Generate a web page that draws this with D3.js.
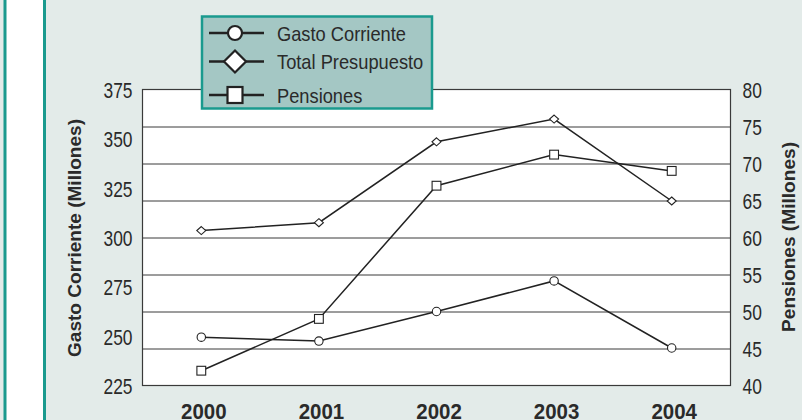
<!DOCTYPE html>
<html>
<head>
<meta charset="utf-8">
<script src="https://cdn.jsdelivr.net/npm/d3@7"></script>
<style>
  body { margin: 0; background: #e3ebe9; }
  svg { display: block; }
</style>
</head>
<body>
<div id="chart"></div>
<script>
// data
var years = ["2000", "2001", "2002", "2003", "2004"];
var gastoCorriente = [249.5, 247.5, 262.5, 278, 244];
var totalPresupuesto = [303.5, 307.5, 348.5, 360, 318.5];
var pensiones = [42, 49, 67, 71.2, 69];
var leftTicks = [225, 250, 275, 300, 325, 350, 375];
var rightTicks = [40, 45, 50, 55, 60, 65, 70, 75, 80];

var W = 802, H = 420;
var margin = { top: 89.5, right: 71.5, bottom: 34.5, left: 142.5 },
    width = W - margin.left - margin.right,
    height = H - margin.top - margin.bottom;

var font = "'Liberation Sans', Arial, sans-serif";

// squeeze text horizontally so it looks like the condensed face of the original
function condense(sel, k) {
    sel.each(function () {
        var len = this.getComputedTextLength();
        d3.select(this).attr("textLength", len * k).attr("lengthAdjust", "spacingAndGlyphs");
    });
}

var svg = d3.select("#chart")
    .append("svg")
    .attr("width", W)
    .attr("height", H);

// background + left side frame
svg.append("rect").attr("width", W).attr("height", H).attr("fill", "#e3ebe9");
svg.append("rect").attr("x", 5).attr("y", -2).attr("width", 39.5).attr("height", H + 4)
    .attr("fill", "#ffffff").attr("stroke", "#1a9a8e").attr("stroke-width", 3);

var g = svg.append("g")
    .attr("transform", "translate(" + margin.left + "," + margin.top + ")");

var x = d3.scalePoint().domain(years).range([0, width]).padding(0.5);
var yLeft = d3.scaleLinear().domain([225, 375]).range([height, 0]);
var yRight = d3.scaleLinear().domain([40, 80]).range([height, 0]);

// plot area
g.append("rect").attr("width", width).attr("height", height).attr("fill", "#ffffff");

// gridlines follow the right axis
g.append("g").selectAll("line")
    .data(rightTicks.slice(1, -1))
    .enter().append("line")
    .attr("x1", 0).attr("x2", width)
    .attr("y1", function (d) { return Math.round(yRight(d)) + 0.5; })
    .attr("y2", function (d) { return Math.round(yRight(d)) + 0.5; })
    .attr("stroke", "#3a3a3a").attr("stroke-width", 1);

g.append("rect").attr("width", width).attr("height", height)
    .attr("fill", "none").attr("stroke", "#3a3a3a").attr("stroke-width", 1.2);

// axes (labels only)
var leftAxis = g.append("g")
    .call(d3.axisLeft(yLeft).tickValues(leftTicks).tickSize(0).tickPadding(10));
var rightAxis = g.append("g")
    .attr("transform", "translate(" + width + ",0)")
    .call(d3.axisRight(yRight).tickValues(rightTicks).tickSize(0).tickPadding(12));
var bottomAxis = g.append("g")
    .attr("transform", "translate(0," + height + ")")
    .call(d3.axisBottom(x).tickSize(0).tickPadding(18));

[leftAxis, rightAxis, bottomAxis].forEach(function (a) {
    a.select(".domain").remove();
    a.selectAll("text").style("font-family", font).attr("fill", "#2a2a2a");
});
leftAxis.selectAll("text").style("font-size", "22px").attr("dy", "0.36em");
rightAxis.selectAll("text").style("font-size", "22px").attr("dy", "0.36em");
bottomAxis.selectAll("text").style("font-size", "22px").style("font-weight", "bold")
    .attr("dx", 2);
condense(leftAxis.selectAll("text"), 0.79);
condense(rightAxis.selectAll("text"), 0.79);
condense(bottomAxis.selectAll("text"), 0.93);

// axis titles
svg.append("text")
    .attr("transform", "translate(81,238) rotate(-90)")
    .attr("text-anchor", "middle")
    .style("font-family", font).style("font-size", "19px").style("font-weight", "bold")
    .attr("fill", "#2a2a2a")
    .attr("textLength", 238).attr("lengthAdjust", "spacingAndGlyphs")
    .text("Gasto Corriente (Millones)");
svg.append("text")
    .attr("transform", "translate(795,237) rotate(-90)")
    .attr("text-anchor", "middle")
    .style("font-family", font).style("font-size", "19px").style("font-weight", "bold")
    .attr("fill", "#2a2a2a")
    .attr("textLength", 190).attr("lengthAdjust", "spacingAndGlyphs")
    .text("Pensiones (Millones)");

// series
var series = [
    { name: "Gasto Corriente", values: gastoCorriente, y: yLeft, marker: "circle" },
    { name: "Total Presupuesto", values: totalPresupuesto, y: yLeft, marker: "diamond" },
    { name: "Pensiones", values: pensiones, y: yRight, marker: "square" }
];

function drawMarker(sel, type, w, h) {
    if (type === "circle") {
        sel.append("circle").attr("r", w);
    } else if (type === "diamond") {
        sel.append("path").attr("d", "M0," + (-h) + "L" + w + ",0L0," + h + "L" + (-w) + ",0Z");
    } else {
        sel.append("rect").attr("x", -w).attr("y", -h).attr("width", w * 2).attr("height", h * 2);
    }
    sel.selectAll("*").attr("fill", "#fff").attr("stroke", "#222");
}

var markerSize = { circle: [4.2, 4.2], diamond: [4.5, 4], square: [4.4, 4.4] };

series.forEach(function (s) {
    var line = d3.line()
        .x(function (d, i) { return x(years[i]); })
        .y(function (d) { return s.y(d); });
    g.append("path")
        .datum(s.values)
        .attr("d", line)
        .attr("fill", "none")
        .attr("stroke", "#222")
        .attr("stroke-width", 1.5);
    g.append("g").selectAll("g")
        .data(s.values)
        .enter().append("g")
        .attr("transform", function (d, i) { return "translate(" + x(years[i]) + "," + s.y(d) + ")"; })
        .each(function () {
            var sz = markerSize[s.marker];
            drawMarker(d3.select(this), s.marker, sz[0], sz[1]);
            d3.select(this).selectAll("*").attr("stroke-width", 1.1);
        });
});

// legend
var legend = svg.append("g").attr("transform", "translate(202,16.5)");
legend.append("rect")
    .attr("width", 230).attr("height", 92)
    .attr("fill", "#a4c7c4").attr("stroke", "#1a9a8e").attr("stroke-width", 2.5);

var legendY = [16.5, 45, 78.5];
var legendMarker = { circle: [7, 7], diamond: [11, 11], square: [7.5, 8] };
series.forEach(function (s, i) {
    var row = legend.append("g").attr("transform", "translate(0," + legendY[i] + ")");
    row.append("line").attr("x1", 7).attr("x2", 62).attr("y1", 0).attr("y2", 0)
        .attr("stroke", "#222").attr("stroke-width", 2.4);
    var m = row.append("g").attr("transform", "translate(33,0)");
    var sz = legendMarker[s.marker];
    drawMarker(m, s.marker, sz[0], sz[1]);
    m.selectAll("*").attr("stroke-width", 2.2);
    row.append("text")
        .attr("x", 75).attr("y", 0).attr("dy", "0.36em")
        .style("font-family", font).style("font-size", "21px")
        .attr("fill", "#2a2a2a")
        .text(s.name);
});
condense(legend.selectAll("text"), 0.87);
</script>
</body>
</html>
